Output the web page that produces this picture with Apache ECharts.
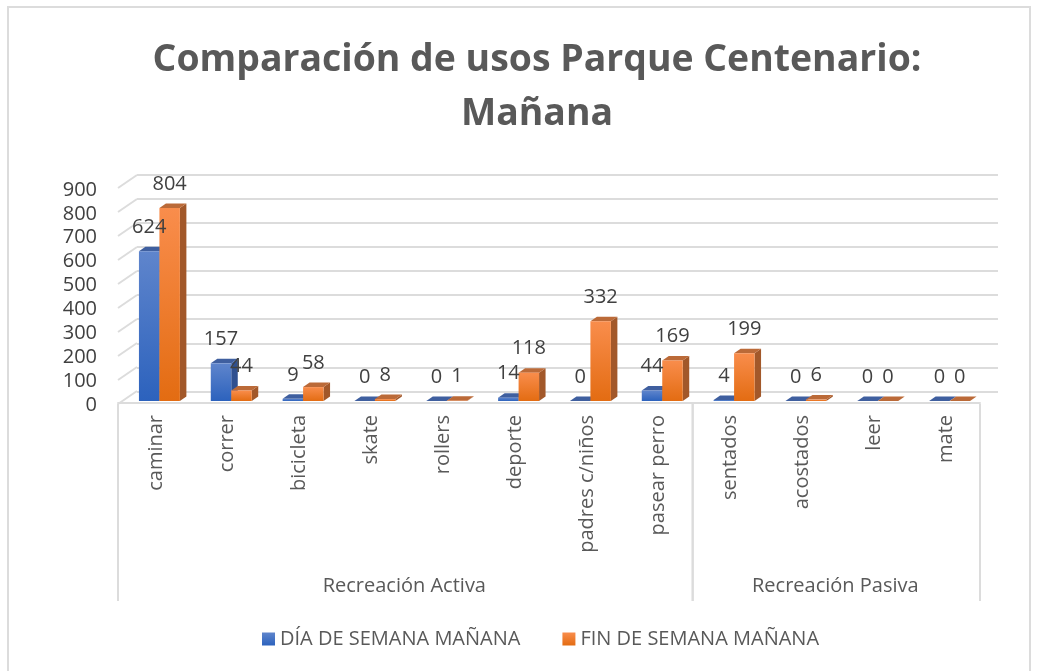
<!DOCTYPE html>
<html>
<head>
<meta charset="utf-8">
<style>html,body{margin:0;background:#fff}#chart{width:1054px;height:671px}</style>
<script src="https://cdn.jsdelivr.net/npm/echarts@6/dist/echarts.min.js"></script>
</head>
<body>
<div id="chart"></div>
<script>
const FONT = '"Open Sans", sans-serif'

const categories = ['caminar', 'correr', 'bicicleta', 'skate', 'rollers', 'deporte', 'padres c/niños', 'pasear perro', 'sentados', 'acostados', 'leer', 'mate']
const diaSemana = [624, 157, 9, 0, 0, 14, 0, 44, 4, 0, 0, 0]
const finSemana = [804, 44, 58, 8, 1, 118, 332, 169, 199, 6, 0, 0]
const groupNames = ['Recreación Activa', 'Recreación Pasiva']
const groupStart = [0, 8]
const groupEnd = [8, 12]
const yTicks = [0, 100, 200, 300, 400, 500, 600, 700, 800, 900]

const GRID = '#dcdcdc'
const TEXT = '#595959'
const blue = { top: '#3f5f9f', side: '#2f5090', hi: '#5f85cc', lo: '#2c62bd' }
const orange = { top: '#bb6a38', side: '#a2582a', hi: '#f98d4c', lo: '#e36c12' }

// profundidad de la caja y de las barras (falso 3D)
const WALL_DX = 19, WALL_DY = -13
const BAR_DX = 6.5, BAR_DY = -4.5

function bar3d(col, side) {
  return (params, api) => {
    const slot = api.size([1, 0])[0]
    const w = slot * 0.285
    const base = api.coord([api.value(0), 0])
    const top = api.coord([api.value(0), api.value(1)])
    const x0 = base[0] + 5.5 + (side === 0 ? -w : 0)
    const x1 = x0 + w
    const y0 = base[1] - 2
    const y1 = top[1] - 2
    return {
      type: 'group',
      children: [
        {
          type: 'polygon',
          shape: { points: [[x1, y0], [x1 + BAR_DX, y0 + BAR_DY], [x1 + BAR_DX, y1 + BAR_DY], [x1, y1]] },
          style: { fill: col.side },
        },
        {
          type: 'polygon',
          shape: { points: [[x0, y1], [x1, y1], [x1 + BAR_DX, y1 + BAR_DY], [x0 + BAR_DX, y1 + BAR_DY]] },
          style: { fill: col.top },
        },
        {
          type: 'rect',
          shape: { x: x0, y: y1, width: w, height: y0 - y1 },
          style: {
            fill: new echarts.graphic.LinearGradient(0, 0, 0, 1, [
              { offset: 0, color: col.hi },
              { offset: 1, color: col.lo },
            ]),
          },
        },
        {
          type: 'text',
          z2: 50,
          style: {
            x: (x0 + x1) / 2,
            y: y1 - 24,
            text: String(api.value(1)),
            align: 'center',
            verticalAlign: 'middle',
            font: '20px ' + FONT,
            fill: '#404040',
          },
        },
      ],
    }
  }
}

function wallLine(params, api) {
  const p = api.coord([0, api.value(0)])
  return {
    type: 'line',
    shape: { x1: p[0], y1: p[1] + 1, x2: p[0] + WALL_DX, y2: p[1] + 1 + WALL_DY },
    style: { stroke: GRID, lineWidth: 2 },
  }
}

function groupBracket(params, api) {
  const a = api.coord([api.value(0), 0])
  const b = api.coord([api.value(1), 0])
  const line = (x) => ({
    type: 'line',
    shape: { x1: x, y1: a[1] + 1, x2: x, y2: a[1] + 198 },
    style: { stroke: GRID, lineWidth: 2 },
  })
  return {
    type: 'group',
    children: [
      line(a[0]),
      line(b[0]),
      {
        type: 'text',
        style: {
          x: (a[0] + b[0]) / 2 - 1,
          y: a[1] + 183,
          text: groupNames[params.dataIndex],
          align: 'center',
          verticalAlign: 'middle',
          font: '20px ' + FONT,
          fill: TEXT,
        },
      },
    ],
  }
}

const myChart = echarts.init(document.getElementById('chart'))

myChart.setOption({
  animation: false,
  backgroundColor: '#fff',
  title: {
    text: 'Comparación de usos Parque Centenario:\nMañana',
    left: 532,
    top: 28,
    textAlign: 'center',
    textStyle: { fontFamily: FONT, fontSize: 37.4, fontWeight: 'bold', color: TEXT, lineHeight: 54 },
  },
  legend: {
    data: [
      { name: 'DÍA DE SEMANA MAÑANA', itemStyle: { color: new echarts.graphic.LinearGradient(0, 0, 0, 1, [{ offset: 0, color: blue.hi }, { offset: 1, color: blue.lo }]) } },
      { name: 'FIN DE SEMANA MAÑANA', itemStyle: { color: new echarts.graphic.LinearGradient(0, 0, 0, 1, [{ offset: 0, color: orange.hi }, { offset: 1, color: orange.lo }]) } },
    ],
    left: 257,
    top: 624,
    icon: 'rect',
    itemWidth: 13,
    itemHeight: 13,
    itemGap: 42,
    textStyle: { fontFamily: FONT, fontSize: 20, color: TEXT },
  },
  graphic: [
    {
      type: 'rect',
      silent: true,
      shape: { x: 8, y: 7, width: 1022, height: 680 },
      style: { fill: 'none', stroke: GRID, lineWidth: 2 },
    },
  ],
  grid: [
    { left: 118, top: 187, width: 862, height: 216 }, // frente: barras
    { left: 137, top: 174.5, width: 861, height: 217 }, // pared del fondo
    { left: 120, top: 190, width: 862, height: 215 }, // solo etiquetas de ejes
  ],
  xAxis: [
    {
      type: 'category',
      gridIndex: 0,
      data: categories,
      axisTick: { show: false },
      axisLabel: { show: false },
      axisLine: { show: true, lineStyle: { color: GRID, width: 2 } },
    },
    { type: 'category', gridIndex: 1, data: categories, show: false },
    { type: 'value', gridIndex: 0, min: 0, max: 12, show: false },
    {
      type: 'category',
      gridIndex: 2,
      data: categories,
      axisTick: { show: false },
      axisLine: { show: false },
      axisLabel: {
        rotate: 90,
        interval: 0,
        margin: 10,
        fontFamily: FONT,
        fontSize: 20,
        color: TEXT,
      },
    },
  ],
  yAxis: [
    {
      type: 'value',
      gridIndex: 0,
      min: 0,
      max: 900,
      interval: 100,
      axisLine: { show: false },
      axisTick: { show: false },
      splitLine: { show: false },
      axisLabel: { show: false },
    },
    {
      type: 'value',
      gridIndex: 1,
      min: 0,
      max: 900,
      interval: 100,
      axisLine: { show: false },
      axisTick: { show: false },
      axisLabel: { show: false },
      splitLine: { lineStyle: { color: GRID, width: 2 } },
    },
    {
      type: 'value',
      gridIndex: 2,
      min: 0,
      max: 900,
      interval: 100,
      axisLine: { show: false },
      axisTick: { show: false },
      splitLine: { show: false },
      axisLabel: { margin: 23, fontFamily: FONT, fontSize: 20, color: '#404040' },
    },
  ],
  series: [
    {
      type: 'custom',
      name: 'paredes',
      xAxisIndex: 2,
      yAxisIndex: 0,
      silent: true,
      clip: false,
      data: yTicks.map((t) => [t]),
      encode: { y: 0 },
      renderItem: wallLine,
    },
    {
      type: 'custom',
      name: 'grupos',
      xAxisIndex: 2,
      yAxisIndex: 0,
      silent: true,
      clip: false,
      data: groupNames.map((n, i) => [groupStart[i], groupEnd[i]]),
      encode: { x: [0, 1] },
      renderItem: groupBracket,
    },
    {
      type: 'custom',
      name: 'DÍA DE SEMANA MAÑANA',
      xAxisIndex: 0,
      yAxisIndex: 0,
      clip: false,
      itemStyle: { color: blue.lo },
      data: categories.map((c, i) => [i, diaSemana[i]]),
      encode: { x: 0, y: 1 },
      renderItem: bar3d(blue, 0),
    },
    {
      type: 'custom',
      name: 'FIN DE SEMANA MAÑANA',
      xAxisIndex: 0,
      yAxisIndex: 0,
      clip: false,
      itemStyle: { color: orange.lo },
      data: categories.map((c, i) => [i, finSemana[i]]),
      encode: { x: 0, y: 1 },
      renderItem: bar3d(orange, 1),
    },
  ],
})
</script>
</body>
</html>
